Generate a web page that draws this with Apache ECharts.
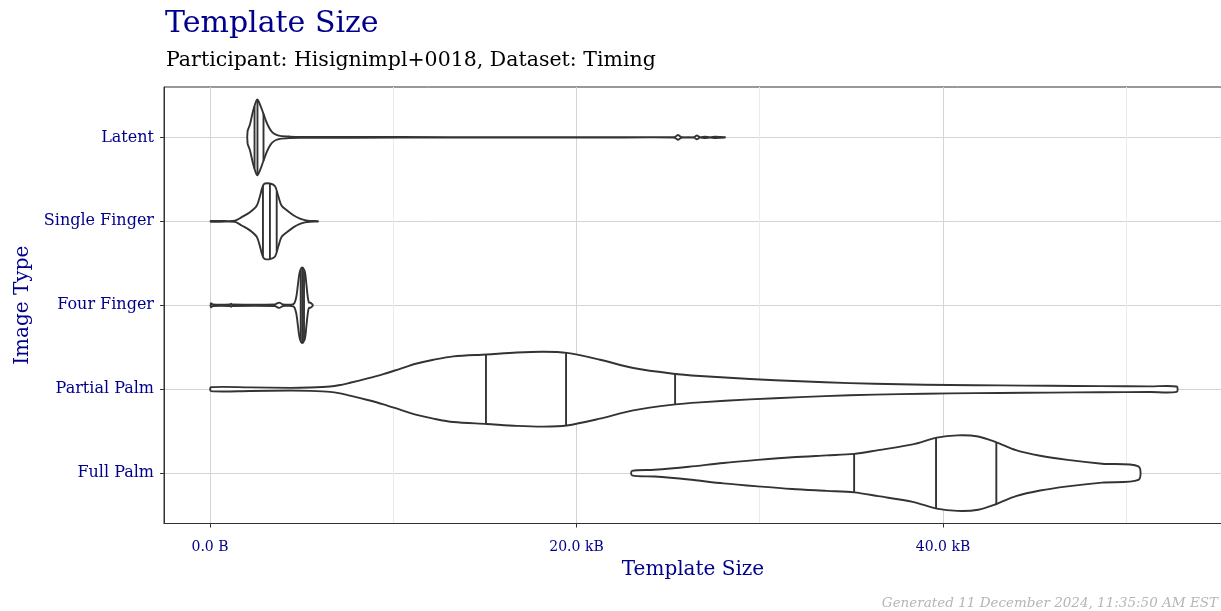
<!DOCTYPE html>
<html>
<head>
<meta charset="utf-8">
<script src="https://cdn.jsdelivr.net/npm/echarts@6/dist/echarts.min.js"></script>
<style>
	html, body { margin: 0; padding: 0; background: #fff; }
	#chart { width: 1221px; height: 611px; }
</style>
</head>
<body>
<div id="chart"></div>
<script>
const categories = ['Latent', 'Single Finger', 'Four Finger', 'Partial Palm', 'Full Palm'];
const categoryPos = [1, 2, 3, 4, 5];
const xTickValues = [0, 20000, 40000];
const xMinorValues = [10000, 30000, 50000];

/* violin outlines: template size (kB) and scaled density (1 = widest point) */
const latentSize = [2.05, 2.18, 2.35, 2.51, 2.59, 2.73, 2.89, 3.06, 3.22, 3.38, 3.60, 3.82, 4.37, 4.9, 10.4, 15.8, 21.3, 25.3, 25.43, 25.54, 25.65, 25.76, 26.41, 26.49, 26.57, 26.65, 26.74, 27.0, 27.29, 27.56, 28.1];
const latentDensity = [0.16, 0.34, 0.70, 0.95, 1.0, 0.87, 0.66, 0.43, 0.26, 0.145, 0.07, 0.04, 0.02, 0.012, 0.008, 0.006, 0.005, 0.004, 0.03, 0.065, 0.03, 0.004, 0.004, 0.03, 0.05, 0.03, 0.004, 0.015, 0.006, 0.015, 0.006];
const latentQuantiles = [2.43, 2.59, 2.92];

const singleSize = [0.04, 0.55, 1.36, 1.73, 2.18, 2.55, 2.73, 2.82, 2.91, 3.0, 3.27, 3.55, 3.73, 3.91, 4.19, 4.55, 4.91, 5.18, 5.46, 5.89];
const singleDensity = [0.01, 0.01, 0.015, 0.11, 0.24, 0.41, 0.67, 0.84, 0.96, 1.0, 1.0, 0.93, 0.66, 0.41, 0.29, 0.16, 0.07, 0.03, 0.01, 0.005];
const singleQuantiles = [2.89, 3.27, 3.64];

const fourSize = [0.05, 0.16, 1.09, 1.15, 1.20, 3.55, 3.66, 3.78, 3.90, 3.98, 4.55, 4.70, 4.80, 4.90, 5.04, 5.18, 5.26, 5.34, 5.40, 5.48, 5.55, 5.60];
const fourDensity = [0.05, 0.02, 0.02, 0.04, 0.02, 0.02, 0.05, 0.07, 0.04, 0.02, 0.03, 0.2, 0.55, 0.88, 1.0, 0.88, 0.55, 0.2, 0.07, 0.07, 0.04, 0.02];
const fourQuantiles = [4.95, 5.04, 5.13];

const partialSize = [0.05, 2.18, 4.37, 5.46, 6.55, 7.1, 7.64, 8.55, 9.46, 10.37, 11.28, 12.19, 13.28, 15.1, 16.74, 18.19, 19.47, 21.28, 23.1, 25.28, 26.74, 29.47, 32.2, 34.9, 37.65, 40.38, 43.1, 45.8, 48.6, 51.3, 52.75];
const partialDensity = [0.05, 0.047, 0.035, 0.045, 0.07, 0.11, 0.17, 0.28, 0.40, 0.54, 0.68, 0.78, 0.87, 0.92, 0.97, 0.99, 0.96, 0.78, 0.56, 0.41, 0.35, 0.27, 0.21, 0.16, 0.13, 0.11, 0.10, 0.09, 0.08, 0.075, 0.07];
const partialQuantiles = [15.06, 19.43, 25.38];

const fullSize = [23.03, 24.25, 26.13, 28.01, 29.89, 31.77, 33.65, 35.15, 36.47, 38.35, 39.66, 40.79, 41.92, 42.95, 43.98, 45.3, 46.8, 48.68, 50.66];
const fullDensity = [0.06, 0.09, 0.17, 0.27, 0.35, 0.42, 0.47, 0.51, 0.61, 0.76, 0.94, 1.0, 0.97, 0.81, 0.61, 0.46, 0.35, 0.25, 0.18];
const fullQuantiles = [35.15, 39.62, 42.91];

const violins = [
	{ size: latentSize, density: latentDensity, quantiles: latentQuantiles },
	{ size: singleSize, density: singleDensity, quantiles: singleQuantiles },
	{ size: fourSize, density: fourDensity, quantiles: fourQuantiles },
	{ size: partialSize, density: partialDensity, quantiles: partialQuantiles },
	{ size: fullSize, density: fullDensity, quantiles: fullQuantiles }
];

const fontFamily = 'DejaVu Serif';
const blue = '#00008b';
const ink = '#333';
const halfWidth = 0.45;

/* 按大小取密度 */
const densityAt = (v, s) => {
	for (let i = 1; i < v.size.length; i++) {
		if (s <= v.size[i]) {
			const t = (s - v.size[i - 1]) / (v.size[i] - v.size[i - 1]);
			return v.density[i - 1] + t * (v.density[i] - v.density[i - 1]);
		}
	}
	return v.density[v.density.length - 1];
};

const chart = echarts.init(document.getElementById('chart'));

function renderViolin(params, api) {
	const v = violins[params.dataIndex];
	const pos = api.value(1);
	const upper = [];
	const lower = [];
	v.size.forEach((s, i) => {
		upper.push(api.coord([s * 1000, pos - v.density[i] * halfWidth]));
		lower.push(api.coord([s * 1000, pos + v.density[i] * halfWidth]));
	});
	const children = [{
		type: 'polygon',
		shape: { points: upper.concat(lower.reverse()), smooth: 0.3 },
		style: { fill: '#fff', stroke: ink, lineWidth: 1.9 }
	}];
	v.quantiles.forEach(q => {
		const d = densityAt(v, q) * halfWidth;
		const a = api.coord([q * 1000, pos - d]);
		const b = api.coord([q * 1000, pos + d]);
		children.push({
			type: 'line',
			shape: { x1: a[0], y1: a[1], x2: b[0], y2: b[1] },
			style: { stroke: ink, lineWidth: 1.9 }
		});
	});
	return { type: 'group', children };
}

const sizeLabel = val => val === 0 ? '0.0 B' : (val / 1000).toFixed(1) + ' kB';

chart.setOption({
	animation: false,
	backgroundColor: '#fff',
	title: [
		{
			text: 'Template Size',
			left: 160,
			top: 4,
			textStyle: { fontFamily, fontSize: 30, fontWeight: 'normal', color: blue }
		},
		{
			text: 'Participant: Hisignimpl+0018, Dataset: Timing',
			left: 161,
			top: 45,
			textStyle: { fontFamily, fontSize: 20.5, fontWeight: 'normal', color: '#000' }
		},
		{
			text: 'Generated 11 December 2024, 11:35:50 AM EST',
			right: -2,
			top: 591,
			textStyle: { fontFamily, fontSize: 13.5, fontStyle: 'italic', fontWeight: 'normal', color: '#b5b5b5' }
		}
	],
	grid: {
		left: 164,
		right: -1,
		top: 87,
		bottom: 87.5,
		show: true,
		borderColor: ink,
		borderWidth: 1,
		containLabel: false,
		outerBoundsMode: 'none'
	},
	xAxis: [
		{
			type: 'value',
			min: -2510,
			max: 55225,
			axisLine: { show: true, onZero: false, lineStyle: { color: ink, width: 1 } },
			axisTick: { show: true, customValues: xTickValues, length: 4, lineStyle: { color: ink } },
			axisLabel: { customValues: xTickValues, formatter: sizeLabel, color: blue, fontFamily, fontSize: 14, margin: 17 },
			splitLine: { show: true, lineStyle: { color: '#d4d4d4', width: 1 } },
			name: 'Template Size',
			nameLocation: 'middle',
			nameGap: 35,
			nameTextStyle: { fontFamily, fontSize: 20, color: blue }
		},
		{
			type: 'value',
			min: -2510,
			max: 55225,
			axisLine: { show: false },
			axisTick: { show: false, customValues: xMinorValues },
			axisLabel: { show: false, customValues: xMinorValues },
			splitLine: { show: true, lineStyle: { color: '#ebebeb', width: 1 } }
		}
	],
	yAxis: {
		type: 'value',
		min: 0.4,
		max: 5.6,
		inverse: true,
		axisLine: { show: true, onZero: false, lineStyle: { color: ink, width: 1 } },
		axisTick: { show: true, customValues: categoryPos, length: 4, lineStyle: { color: ink } },
		axisLabel: {
			customValues: categoryPos,
			formatter: val => categories[Math.round(val) - 1],
			color: blue,
			fontFamily,
			fontSize: 16,
			margin: 10
		},
		splitLine: { show: true, lineStyle: { color: '#d4d4d4', width: 1 } },
		name: 'Image Type',
		nameLocation: 'middle',
		nameGap: 130,
		nameTextStyle: { fontFamily, fontSize: 20, color: blue }
	},
	series: [{
		type: 'custom',
		xAxisIndex: 0,
		renderItem: renderViolin,
		encode: { x: 0, y: 1 },
		data: categoryPos.map(p => [0, p]),
		clip: false
	}]
});
</script>
</body>
</html>
